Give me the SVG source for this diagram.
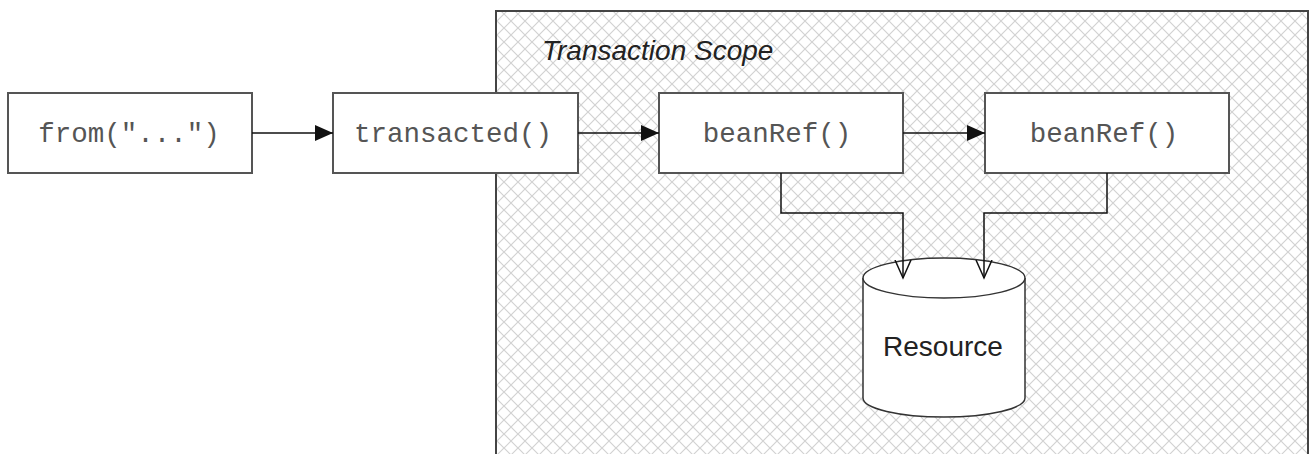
<svg xmlns="http://www.w3.org/2000/svg" width="1311" height="454" viewBox="0 0 1311 454">
<style>
.box{fill:#fff;stroke:#555;stroke-width:2}
.mono{font-family:"Liberation Mono","Courier New",monospace;font-size:27.5px;fill:#555;text-anchor:middle}
.sans{font-family:"Liberation Sans",Arial,sans-serif;font-size:28px;fill:#222}
.conn{fill:none;stroke:#111;stroke-width:1.5}
</style>
<defs>
<pattern id="hatch" patternUnits="userSpaceOnUse" width="14" height="14">
<path d="M0,0L14,14M14,0L0,14" stroke="#d2d2d2" stroke-width="1.2" fill="none"/>
</pattern>
<marker id="solid" viewBox="0 0 18 16" refX="18" refY="8" markerWidth="18" markerHeight="16" markerUnits="userSpaceOnUse" orient="auto">
<path d="M0,0L18,8L0,16Z" fill="#111"/>
</marker>
<marker id="open" viewBox="0 0 20 20" refX="18" refY="10" markerWidth="20" markerHeight="20" markerUnits="userSpaceOnUse" orient="auto">
<path d="M0,2L18,10L0,18" fill="none" stroke="#111" stroke-width="1.5"/>
</marker>
</defs>
<rect width="1311" height="454" fill="#fff"/>
<g id="scope">
<rect x="496" y="11" width="812" height="460" fill="url(#hatch)" stroke="#444" stroke-width="2"/>
<text class="sans" x="542" y="60" font-style="italic">Transaction Scope</text>
</g>
<g id="from">
<rect class="box" x="8" y="93" width="244" height="80"/>
<text class="mono" x="129" y="142">from("...")</text>
</g>
<g id="transacted">
<rect class="box" x="333" y="93" width="245" height="80"/>
<text class="mono" x="453" y="142">transacted()</text>
</g>
<g id="beanRef1">
<rect class="box" x="659" y="93" width="244" height="80"/>
<text class="mono" x="777" y="142">beanRef()</text>
</g>
<g id="beanRef2">
<rect class="box" x="985" y="93" width="244" height="80"/>
<text class="mono" x="1104" y="142">beanRef()</text>
</g>
<g id="resource">
<path d="M863,278 L863,398 A81,19 0 0 0 1025,398 L1025,278" fill="#fff" stroke="#333" stroke-width="1.5"/>
<ellipse cx="944" cy="278" rx="81" ry="20" fill="#fff" stroke="#333" stroke-width="1.5"/>
<text class="sans" x="943" y="356" text-anchor="middle">Resource</text>
</g>
<g id="connectors">
<line class="conn" x1="252" y1="133" x2="333" y2="133" marker-end="url(#solid)"/>
<line class="conn" x1="578" y1="133" x2="659" y2="133" marker-end="url(#solid)"/>
<line class="conn" x1="903" y1="133" x2="985" y2="133" marker-end="url(#solid)"/>
<polyline class="conn" points="781,173 781,213 903,213 903,278" marker-end="url(#open)"/>
<polyline class="conn" points="1107,173 1107,213 984,213 984,278" marker-end="url(#open)"/>
</g>
</svg>
